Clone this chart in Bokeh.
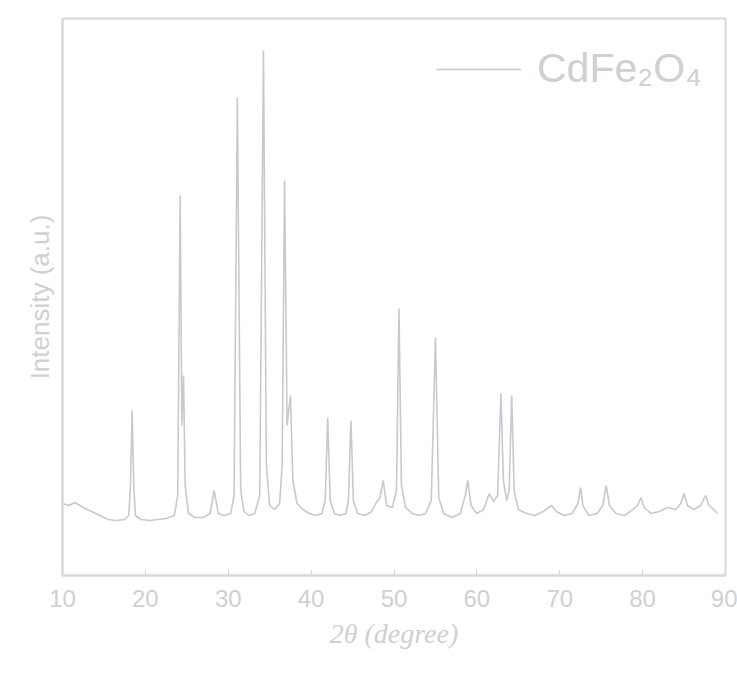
from bokeh.plotting import figure
from bokeh.models import Range1d, Legend, LegendItem, FixedTicker
from bokeh.embed import file_html
from bokeh.resources import INLINE

# XRD pattern of CdFe2O4 (2theta in degrees, intensity a.u.)
two_theta = [10.0, 10.8, 11.5, 12.5, 13.5, 14.5, 15.5, 16.5, 17.5, 18.0, 18.2, 18.4, 18.6, 18.8,
             19.5, 20.5, 21.5, 22.5, 23.5, 23.9, 24.2, 24.4, 24.6, 24.8, 25.2, 26.0, 27.0, 27.8,
             28.3, 28.8, 29.5, 30.3, 30.7, 31.1, 31.5, 31.9, 32.5, 33.2, 33.8, 34.25, 34.6, 35.0,
             35.6, 36.2, 36.5, 36.8, 37.1, 37.5, 37.8, 38.3, 39.0, 39.8, 40.5, 41.3, 41.7, 42.0,
             42.3, 42.8, 43.5, 44.2, 44.5, 44.8, 45.1, 45.6, 46.5, 47.3, 47.8, 48.3, 48.7, 49.1,
             49.8, 50.3, 50.6, 50.9, 51.4, 52.2, 53.0, 53.8, 54.5, 55.0, 55.4, 56.0, 57.0, 58.0,
             58.6, 58.9, 59.3, 60.0, 60.8, 61.5, 62.0, 62.5, 62.9, 63.2, 63.6, 63.9, 64.2, 64.5,
             65.0, 66.0, 67.0, 68.0, 69.0, 69.6, 70.5, 71.5, 72.2, 72.5, 72.8, 73.5, 74.5, 75.2,
             75.6, 76.0, 76.8, 77.8, 78.5, 79.4, 79.8, 80.2, 81.0, 82.0, 83.0, 84.0, 84.6, 85.0,
             85.4, 86.2, 87.0, 87.6, 88.0, 88.6, 89.0]
intensity = [72, 70, 73, 68, 64, 60, 56, 55, 56, 60, 90, 165, 90, 60,
             56, 55, 56, 57, 60, 80, 380, 150, 200, 90, 62, 58, 58, 62,
             85, 62, 60, 62, 80, 478, 85, 64, 60, 62, 80, 525, 110, 70,
             66, 72, 110, 395, 150, 180, 95, 72, 66, 62, 60, 62, 75, 158,
             75, 62, 60, 62, 75, 155, 75, 62, 60, 64, 72, 78, 95, 70,
             68, 85, 267, 90, 68, 62, 60, 62, 75, 238, 78, 62, 58, 62,
             80, 95, 70, 62, 66, 82, 74, 80, 182, 95, 75, 85, 180, 85,
             66, 62, 60, 64, 70, 64, 60, 62, 72, 88, 70, 60, 62, 70,
             90, 70, 62, 60, 64, 70, 78, 68, 62, 64, 68, 66, 72, 82,
             70, 66, 70, 80, 70, 66, 62]

x_ticks = [10, 20, 30, 40, 50, 60, 70, 80, 90]
series_label = "CdFe₂O₄"

LINE = "#c8c8d0"
TEXT = "#d0d0d0"
FRAME = "#d8d8d8"

p = figure(width=737, height=673, output_backend="svg", toolbar_location=None,
           x_range=Range1d(10, 90), y_range=Range1d(0, 557),
           min_border_left=62, min_border_right=12, min_border_top=18, min_border_bottom=98)
p.background_fill_color = "white"
p.border_fill_color = "white"
p.outline_line_color = FRAME
p.outline_line_width = 2
p.xgrid.visible = False
p.ygrid.visible = False

r = p.line(two_theta, intensity, line_color=LINE, line_width=1.6)

xa = p.xaxis[0]
xa.ticker = FixedTicker(ticks=x_ticks)
xa.axis_line_color = FRAME
xa.axis_line_width = 2
xa.major_tick_line_color = FRAME
xa.major_tick_in = 6
xa.major_tick_out = 0
xa.minor_tick_line_color = None
xa.major_label_text_font = "Liberation Sans"
xa.major_label_text_font_size = "24px"
xa.major_label_text_color = TEXT
xa.major_label_standoff = 14
xa.axis_label = "2θ (degree)"
xa.axis_label_text_font = "Liberation Serif"
xa.axis_label_text_font_style = "italic"
xa.axis_label_text_font_size = "28px"
xa.axis_label_text_color = TEXT
xa.axis_label_standoff = 8

ya = p.yaxis[0]
ya.ticker = FixedTicker(ticks=[])
ya.major_label_text_font_size = "0px"
ya.axis_line_color = FRAME
ya.axis_line_width = 2
ya.major_tick_line_color = None
ya.minor_tick_line_color = None
ya.axis_label = "Intensity (a.u.)"
ya.axis_label_text_font = "Liberation Sans"
ya.axis_label_text_font_style = "normal"
ya.axis_label_text_font_size = "26px"
ya.axis_label_text_color = TEXT
ya.axis_label_standoff = 8

legend = Legend(items=[LegendItem(label=series_label, renderers=[r])],
                location=(374, 483), glyph_width=85, glyph_height=30,
                label_text_font="Liberation Sans", label_text_font_size="41px",
                label_text_color=TEXT, border_line_color=None,
                background_fill_alpha=0, label_standoff=16, padding=0, margin=0)
p.add_layout(legend)

open("out.html", "w").write(file_html(p, INLINE))
